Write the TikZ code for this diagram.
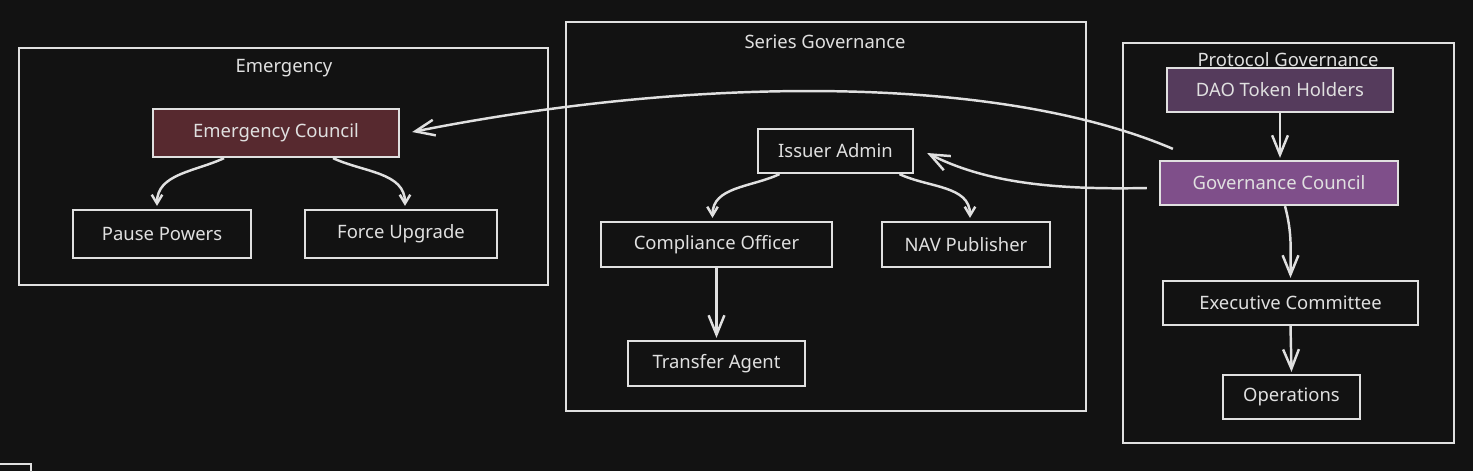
\documentclass[tikz,border=0pt]{standalone}
\usepackage{fontspec}
\setmainfont{Noto Sans}
\usetikzlibrary{arrows.meta,calc}

\definecolor{bgdark}{HTML}{121212}
\definecolor{inkgrey}{HTML}{E0E0E0}
\definecolor{emred}{HTML}{57292F}
\definecolor{daopurple}{HTML}{553B5C}
\definecolor{govpurple}{HTML}{7F4F8A}

\tikzset{
  role/.style={draw=inkgrey, line width=1.3pt, text=inkgrey, inner sep=0pt,
    minimum height=0.9cm, font=\fontsize{10.5}{12}\selectfont},
  frame/.style={draw=inkgrey, line width=1.3pt},
  title/.style={text=inkgrey, inner sep=0pt, font=\fontsize{10.5}{12}\selectfont},
  link/.style={draw=inkgrey, line width=1.4pt, -{Straight Barb[length=11pt,width=9pt]}},
  smalllink/.style={draw=inkgrey, line width=1.4pt, -{Straight Barb[length=5pt,width=6pt]}},
}

\begin{document}
\begin{tikzpicture}[x=0.02cm,y=-0.02cm]
    \useasboundingbox (0,0) rectangle (1473,471);
    \fill[bgdark] (0,0) rectangle (1473,471);
    \draw[frame] (-2,464) -- (31,464) -- (31,473);

    % Emergency
    \draw[frame] (19,48) rectangle (548,285);
    \node[title] (emtitle) at (284,68) {Emergency};
    \node[role, fill=emred, minimum width=4.92cm, minimum height=0.96cm] (emcouncil) at (276,133) {Emergency Council};
    \node[role, minimum width=3.56cm, minimum height=0.96cm] (pause) at (162,234) {Pause Powers};
    \node[role, minimum width=3.84cm, minimum height=0.96cm] (upgrade) at (401,234) {Force Upgrade};
    \draw[smalllink] ($(emcouncil.south)+(-52,0)$) to[out=-155,in=90] ($(pause.north)+(-5,-3)$);
    \draw[smalllink] ($(emcouncil.south)+(57,0)$) to[out=-25,in=90] ($(upgrade.north)+(4,-3)$);

    % Series Governance
    \draw[frame] (566,22) rectangle (1086,411);
    \node[title] (sertitle) at (825,42) {Series Governance};
    \node[role, minimum width=3.1cm, minimum height=0.88cm] (issuer) at (835.5,151) {Issuer Admin};
    \node[role, minimum width=4.62cm] (compliance) at (716.5,244.5) {Compliance Officer};
    \node[role, minimum width=3.36cm] (nav) at (966,244.5) {NAV Publisher};
    \node[role, minimum width=3.54cm] (transfer) at (716.5,363.5) {Transfer Agent};
    \draw[smalllink] ($(issuer.south)+(-56,0)$) to[out=-155,in=90] ($(compliance.north)+(-4,-3)$);
    \draw[smalllink] ($(issuer.south)+(64,0)$) to[out=-25,in=90] ($(nav.north)+(4,-3)$);
    \draw[link] (compliance.south) -- ($(transfer.north)+(0,-2)$);

    % Protocol Governance
    \draw[frame] (1123,43) rectangle (1454,443);
    \node[title] (protitle) at (1288,60) {Protocol Governance};
    \node[role, fill=daopurple, minimum width=4.52cm, minimum height=0.88cm] (dao) at (1280,90) {DAO Token Holders};
    \node[role, fill=govpurple, minimum width=4.76cm, minimum height=0.88cm] (govcouncil) at (1279,183) {Governance Council};
    \node[role, minimum width=5.1cm, minimum height=0.88cm] (exec) at (1290.5,303) {Executive Committee};
    \node[role, minimum width=2.74cm, minimum height=0.88cm] (ops) at (1291.5,397) {Operations};
    \draw[link] (dao.south) -- ($(govcouncil.north)+(1,-2)$);
    \draw[link] ($(govcouncil.south)+(6,0)$) to[out=-75,in=90] ($(exec.north)+(0,-2)$);
    \draw[link] (exec.south) -- ($(ops.north)+(0,-2)$);

    % links across groups
    \draw[link] ($(govcouncil.north west)+(14,-11)$) .. controls (1000,75) and (700,75) .. ($(emcouncil.east)+(12,-1)$);
    \draw[link] ($(govcouncil.west)+(-12,5)$) .. controls (1050,190) and (985,182) .. ($(issuer.east)+(13,2)$);
\end{tikzpicture}
\end{document}
